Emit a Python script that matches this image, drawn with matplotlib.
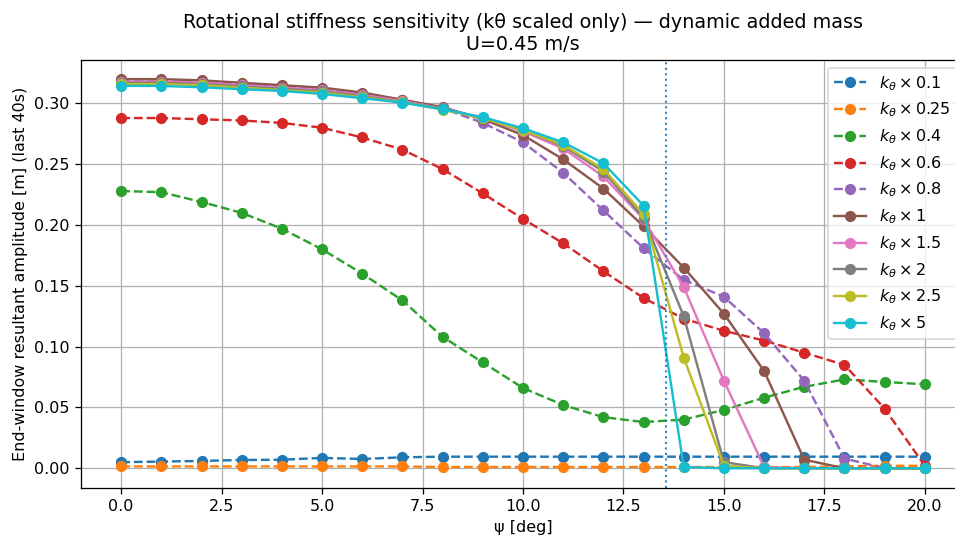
import matplotlib.pyplot as plt
import numpy as np

psi = list(range(0, 21))

# amplitude per k_theta scale factor
amp_01 = [0.005, 0.0055, 0.006, 0.0068, 0.007, 0.0085, 0.0076, 0.009, 0.0095, 0.0095, 0.0095,
          0.0095, 0.0095, 0.0095, 0.0095, 0.0095, 0.0095, 0.0095, 0.0095, 0.0095, 0.0095]
amp_025 = [0.0015, 0.0015, 0.0015, 0.0015, 0.0015, 0.0015, 0.0015, 0.0015, 0.001, 0.001, 0.001,
           0.001, 0.001, 0.001, 0.001, 0.001, 0.001, 0.001, 0.0015, 0.002, 0.002]
amp_04 = [0.228, 0.227, 0.219, 0.210, 0.197, 0.180, 0.160, 0.138, 0.108, 0.087, 0.066,
          0.052, 0.042, 0.038, 0.040, 0.048, 0.058, 0.067, 0.073, 0.071, 0.069]
amp_06 = [0.288, 0.288, 0.287, 0.286, 0.284, 0.280, 0.272, 0.262, 0.246, 0.226, 0.205,
          0.185, 0.162, 0.140, 0.123, 0.113, 0.105, 0.095, 0.085, 0.049, 0.002]
amp_08 = [0.319, 0.319, 0.318, 0.316, 0.314, 0.312, 0.308, 0.303, 0.296, 0.284, 0.268,
          0.243, 0.212, 0.181, 0.155, 0.141, 0.111, 0.072, 0.008, 0.0, 0.0]
amp_1 = [0.320, 0.320, 0.319, 0.317, 0.315, 0.313, 0.309, 0.303, 0.297, 0.287, 0.274,
         0.254, 0.230, 0.199, 0.165, 0.127, 0.080, 0.007, 0.0, 0.0, 0.0]
amp_15 = [0.318, 0.318, 0.317, 0.315, 0.313, 0.311, 0.307, 0.302, 0.296, 0.288, 0.277,
          0.263, 0.240, 0.205, 0.149, 0.072, 0.001, 0.0, 0.0, 0.0, 0.0]
amp_2 = [0.317, 0.317, 0.316, 0.314, 0.312, 0.310, 0.306, 0.301, 0.296, 0.288, 0.278,
         0.265, 0.244, 0.206, 0.125, 0.005, 0.0, 0.0, 0.0, 0.0, 0.0]
amp_25 = [0.316, 0.316, 0.315, 0.313, 0.311, 0.309, 0.305, 0.301, 0.295, 0.288, 0.278,
          0.266, 0.246, 0.209, 0.091, 0.002, 0.0, 0.0, 0.0, 0.0, 0.0]
amp_5 = [0.3145, 0.3144, 0.3133, 0.3117, 0.3103, 0.3078, 0.3043, 0.3007, 0.2952, 0.2887, 0.2796,
         0.268, 0.2508, 0.216, 0.001, 0.0, 0.0, 0.0, 0.0, 0.0, 0.0]

scales = ["0.1", "0.25", "0.4", "0.6", "0.8", "1", "1.5", "2", "2.5", "5"]
series = [amp_01, amp_025, amp_04, amp_06, amp_08, amp_1, amp_15, amp_2, amp_25, amp_5]
psi_crit = 13.57

DPI = 115
fig = plt.figure(figsize=(955 / DPI, 542 / DPI), dpi=DPI)
ax = fig.add_axes([0.0848, 0.1002, 0.9257, 0.7897])

for s, amp in zip(scales, series):
    ls = "--" if float(s) < 1 else "-"
    ax.plot(psi, amp, marker="o", linestyle=ls, label=r"$k_\theta \times %s$" % s)

ax.axvline(psi_crit, color="tab:blue", linestyle=":", linewidth=1.3, alpha=0.9)

ax.set_xlim(-1, 21)
ax.set_xlabel("ψ [deg]")
ax.set_ylabel("End-window resultant amplitude [m] (last 40s)")
ax.set_title("Rotational stiffness sensitivity (kθ scaled only) — dynamic added mass\nU=0.45 m/s")
ax.grid(True)
ax.legend(loc="upper right")

fig.savefig("out.png", dpi=DPI)
